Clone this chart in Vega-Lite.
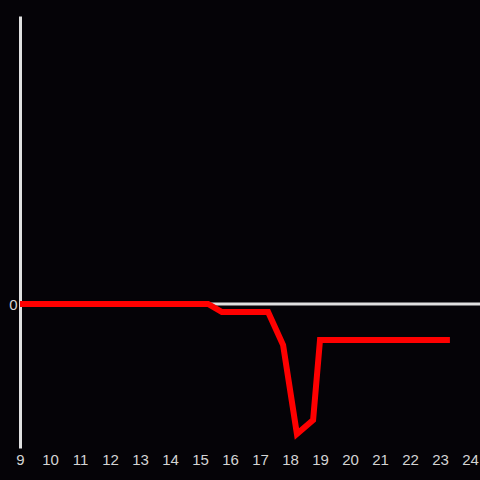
{
  "$schema": "https://vega.github.io/schema/vega-lite/v6.json",
  "autosize": "none",
  "width": 460,
  "height": 432,
  "padding": {"left": 20, "top": 16, "right": 0, "bottom": 32},
  "background": "#050307",
  "config": {"view": {"stroke": null}},
  "layer": [
    {
      "data": {"values": [{"y": 0}]},
      "mark": {"type": "rule", "color": "#e0e0e0", "strokeWidth": 3},
      "encoding": {"y": {"field": "y", "type": "quantitative", "scale": {"domain": [-144, 288]}}}
    },
    {
      "data": {"values": [
        {"x": 9, "y": 0},
        {"x": 15.27, "y": 0},
        {"x": 15.73, "y": -8},
        {"x": 17.27, "y": -8},
        {"x": 17.77, "y": -41},
        {"x": 18.23, "y": -130},
        {"x": 18.77, "y": -116},
        {"x": 19.0, "y": -36},
        {"x": 23.33, "y": -36}
      ]},
      "mark": {"type": "line", "color": "#ff0000", "strokeWidth": 6, "strokeCap": "butt", "strokeJoin": "miter"},
      "encoding": {
        "x": {"field": "x", "type": "quantitative", "scale": {"domain": [9, 24.333], "nice": false, "zero": false},
          "axis": {"title": null, "values": [9,10,11,12,13,14,15,16,17,18,19,20,21,22,23,24], "domain": false, "ticks": false, "grid": false, "labelColor": "#d4d4d4", "labelFontSize": 15, "labelFont": "Liberation Sans", "labelPadding": 4, "labelFlush": false, "labelOverlap": false}},
        "y": {"field": "y", "type": "quantitative", "scale": {"domain": [-144, 288], "nice": false, "zero": false},
          "axis": {"title": null, "values": [0], "domain": true, "domainColor": "#e0e0e0", "domainWidth": 3, "ticks": false, "grid": false, "labelColor": "#d4d4d4", "labelFontSize": 15, "labelFont": "Liberation Sans", "labelPadding": 3}}
      }
    }
  ]
}
